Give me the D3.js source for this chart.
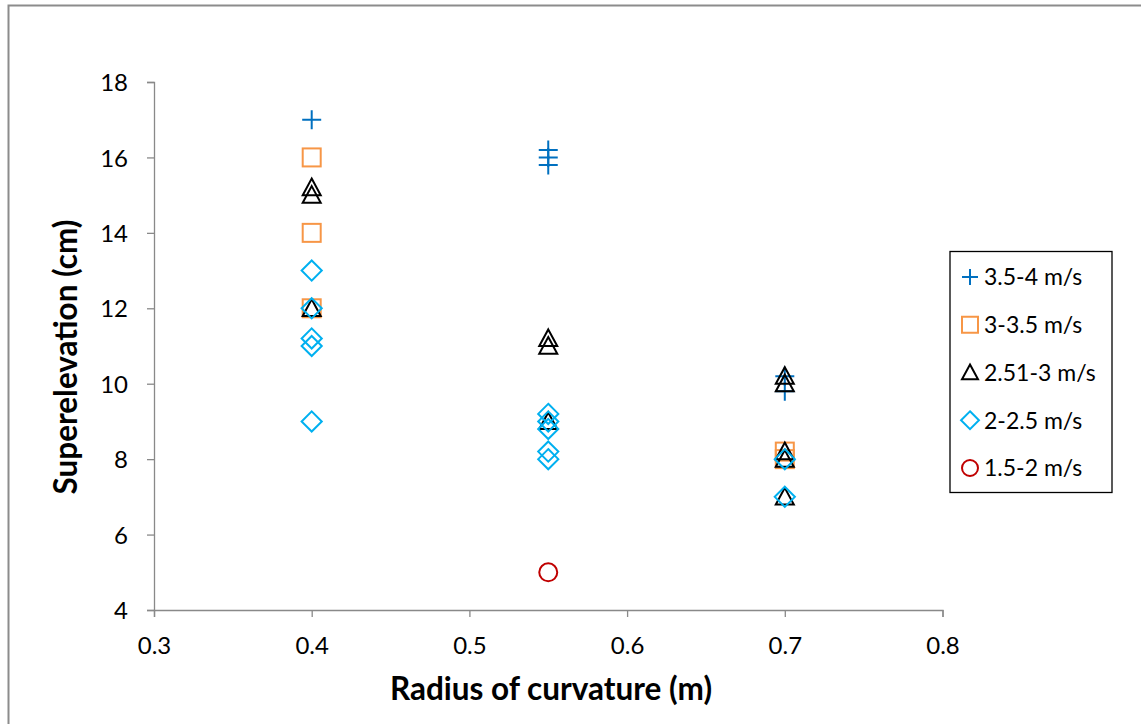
<!DOCTYPE html>
<html><head><meta charset="utf-8">
<script src="https://cdn.jsdelivr.net/npm/d3@7"></script>
<style>html,body{margin:0;padding:0;background:#fff;} text{font-family:Lato,"Open Sans",sans-serif;}</style>
</head><body>
<svg id="chart" width="1141" height="724"></svg>
<script>
const seriesNames = ["3.5-4 m/s", "3-3.5 m/s", "2.51-3 m/s", "2-2.5 m/s", "1.5-2 m/s"];
const plusX = [0.4, 0.55, 0.55, 0.55, 0.7, 0.7];
const plusY = [17, 16.2, 16, 15.8, 10.2, 9.8];
const squareX = [0.4, 0.4, 0.4, 0.7, 0.7];
const squareY = [16, 14, 12, 8.2, 8];
const triangleX = [0.4, 0.4, 0.4, 0.55, 0.55, 0.55, 0.7, 0.7, 0.7, 0.7, 0.7];
const triangleY = [15.2, 15, 12, 11.2, 11, 9, 10.2, 10, 8.2, 8, 7];
const diamondX = [0.4, 0.4, 0.4, 0.4, 0.4, 0.55, 0.55, 0.55, 0.55, 0.55, 0.7, 0.7];
const diamondY = [13, 12, 11.2, 11, 9, 9.2, 9, 8.8, 8.2, 8, 8, 7];
const circleX = [0.55];
const circleY = [5];
const xTicks = [0.3, 0.4, 0.5, 0.6, 0.7, 0.8];
const yTicks = [4, 6, 8, 10, 12, 14, 16, 18];

const svg = d3.select("#chart");
const axisColor = "#898989";
const x = d3.scaleLinear().domain([0.3, 0.8]).range([154, 942.5]);
const y = d3.scaleLinear().domain([4, 18]).range([610, 82]);

// outer border
svg.append("rect").attr("x", 8.5).attr("y", 5.5).attr("width", 1200).attr("height", 800)
  .attr("fill", "none").attr("stroke", "#8c8c8c").attr("stroke-width", 2);

// axes
const yAxis = svg.append("g").attr("transform", "translate(154,0)")
  .call(d3.axisLeft(y).tickValues(yTicks).tickSize(7).tickPadding(19).tickFormat(d3.format("d")));
const xAxis = svg.append("g").attr("transform", "translate(0,610)")
  .call(d3.axisBottom(x).tickValues(xTicks).tickSize(7).tickPadding(20).tickFormat(d3.format(".1f")));
[xAxis, yAxis].forEach(g => {
  g.select(".domain").attr("stroke", axisColor).attr("stroke-width", 1.3);
  g.selectAll(".tick line").attr("stroke", axisColor).attr("stroke-width", 1.3);
  g.selectAll(".tick text").attr("fill", "#000").style("font-size", "24px").style("font-family", "Lato");
});
yAxis.selectAll(".tick text").attr("dy", "0.36em");
xAxis.selectAll(".tick text").attr("dy", "0.71em");

// axis titles
svg.append("text").attr("x", 551).attr("y", 700).attr("text-anchor", "middle")
  .style("font-size", "31.5px").style("font-weight", "bold").text("Radius of curvature (m)");
svg.append("text").attr("transform", "translate(77,357) rotate(-90)").attr("text-anchor", "middle")
  .style("font-size", "31.5px").style("font-weight", "bold").text("Superelevation (cm)");

// marker painters
const colors = ["#0070C0", "#F79646", "#000000", "#00B0F0", "#C00000"];
function drawMarker(g, type, cx, cy, s, color) {
  if (type === 0) {
    g.append("path").attr("d", `M${cx - s},${cy}H${cx + s}M${cx},${cy - s}V${cy + s}`)
      .attr("stroke", color).attr("stroke-width", 2).attr("fill", "none");
  } else if (type === 1) {
    g.append("rect").attr("x", cx - s).attr("y", cy - s).attr("width", 2 * s).attr("height", 2 * s)
      .attr("stroke", color).attr("stroke-width", 2).attr("fill", "none");
  } else if (type === 2) {
    g.append("path").attr("d", `M${cx},${cy - s}L${cx + s},${cy + s * 0.85}L${cx - s},${cy + s * 0.85}Z`)
      .attr("stroke", color).attr("stroke-width", 2).attr("fill", "none");
  } else if (type === 3) {
    const r = s * 1.12;
    g.append("path").attr("d", `M${cx},${cy - r}L${cx + r},${cy}L${cx},${cy + r}L${cx - r},${cy}Z`)
      .attr("stroke", color).attr("stroke-width", 2).attr("fill", "none");
  } else {
    g.append("circle").attr("cx", cx).attr("cy", cy).attr("r", s)
      .attr("stroke", color).attr("stroke-width", 2).attr("fill", "none");
  }
}

const series = [[plusX, plusY], [squareX, squareY], [triangleX, triangleY], [diamondX, diamondY], [circleX, circleY]];
const plot = svg.append("g");
series.forEach(([xs, ys], i) => {
  const g = plot.append("g");
  xs.forEach((xv, j) => drawMarker(g, i, x(xv), y(ys[j]), i === 0 ? 9.5 : 9, colors[i]));
});

// legend
const lg = svg.append("g");
lg.append("rect").attr("x", 950).attr("y", 251.5).attr("width", 162).attr("height", 241)
  .attr("fill", "#fff").attr("stroke", "#000").attr("stroke-width", 1.3);
const legY = d3.scalePoint().domain(seriesNames).range([277, 468]);
seriesNames.forEach((name, i) => {
  const cy = legY(name);
  drawMarker(lg, i, 970, cy, 8, colors[i]);
  lg.append("text").attr("x", 984).attr("y", cy).attr("dy", "0.36em")
    .style("font-size", "23px").text(name);
});
</script>
</body></html>
